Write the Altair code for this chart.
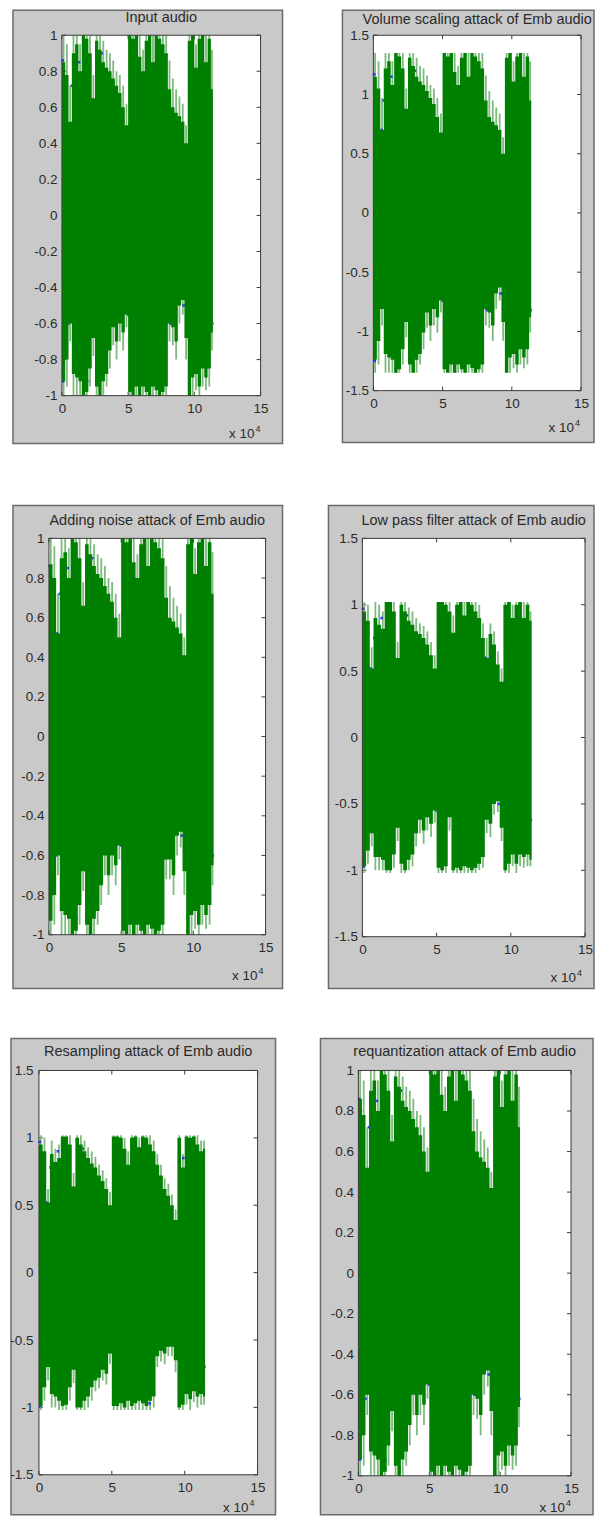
import altair as alt
import pandas as pd

# ---------------- data (x in units of 1e4 samples) ----------------
X_START = [0.0, 0.25, 0.5, 0.75, 1.0, 1.25, 1.5, 1.75, 2.0, 2.25, 2.5, 2.75, 3.0, 3.25, 3.5, 3.75,
           4.0, 4.25, 4.5, 4.75, 5.0, 5.25, 5.5, 5.75, 6.0, 6.25, 6.5, 6.75, 7.0, 7.25, 7.5, 7.75,
           8.0, 8.25, 8.5, 8.75, 9.0, 9.25, 9.5, 9.75, 10.0, 10.25, 10.5, 10.75, 11.0, 11.25]
X_END = 11.4
X_TICKS = [0, 5, 10, 15]
Y_TICKS_1 = [-1, -0.8, -0.6, -0.4, -0.2, 0, 0.2, 0.4, 0.6, 0.8, 1]
Y_TICKS_15 = [-1.5, -1, -0.5, 0, 0.5, 1, 1.5]

TITLES = ["Input audio", "Volume scaling attack of Emb audio", "Adding noise attack of Emb audio",
          "Low pass filter attack of Emb audio", "Resampling attack of Emb audio",
          "requantization attack of Emb audio"]

# Panel 1: Input audio
P1_HI = [0.85, 0.78, 0.52, 0.9, 0.95, 0.8, 1.0, 0.98, 0.9, 0.65, 0.97, 0.92, 0.85, 0.82, 0.8, 0.76,
         0.72, 0.68, 0.6, 0.5, 1.0, 0.98, 1.0, 0.88, 0.8, 0.97, 1.0, 0.85, 1.0, 0.98, 0.95, 0.9,
         0.7, 0.6, 0.57, 0.55, 0.52, 0.4, 0.97, 1.0, 0.82, 0.98, 1.0, 0.85, 0.98, 0.7]
P1_HL = [1.0, 0.95, 0.72, 1.0, 1.0, 0.95, 1.0, 1.0, 1.0, 0.78, 1.0, 1.0, 0.97, 0.92, 0.9, 0.86,
         0.8, 0.78, 0.72, 0.62, 1.0, 1.0, 1.0, 1.0, 0.92, 1.0, 1.0, 1.0, 1.0, 1.0, 1.0, 1.0,
         0.86, 0.76, 0.7, 0.66, 0.62, 0.5, 1.0, 1.0, 0.95, 1.0, 1.0, 1.0, 1.0, 0.92]
P1_LO = [-0.92, -0.8, -0.6, -0.88, -0.9, -0.92, -1.0, -0.98, -0.85, -0.68, -0.95, -1.0, -0.92, -0.88, -0.75, -0.62,
         -0.7, -0.6, -0.65, -0.55, -0.98, -1.0, -0.95, -1.0, -0.95, -0.98, -1.0, -0.95, -0.97, -1.0, -0.98, -0.95,
         -0.6, -0.62, -0.7, -0.5, -0.47, -0.68, -1.0, -0.9, -0.88, -0.95, -0.85, -0.9, -0.85, -0.65]
P1_LL = [-1.0, -0.95, -0.7, -1.0, -1.0, -1.0, -1.0, -1.0, -0.95, -0.78, -1.0, -1.0, -1.0, -0.95, -0.85, -0.72,
         -0.8, -0.7, -0.75, -0.62, -1.0, -1.0, -1.0, -1.0, -1.0, -1.0, -1.0, -1.0, -1.0, -1.0, -1.0, -1.0,
         -0.7, -0.72, -0.8, -0.6, -0.55, -0.8, -1.0, -1.0, -0.97, -1.0, -0.95, -0.97, -0.95, -0.75]
P1_BX = [0.05, 0.55, 0.75, 1.3, 1.55, 3.0, 8.3, 9.9, 10.6, 0.1, 0.5, 1.9, 5.0, 7.6, 8.2, 9.2, 11.35]
P1_BY = [0.86, 0.5, 0.72, 0.85, 0.78, 0.9, 0.55, 0.82, 0.8, -0.92, -0.6, -0.92, -0.55, -0.95, -0.6, -0.5, -0.6]

# Panel 2: Volume scaling attack
P2_HI = [1.15, 1.05, 0.7, 1.22, 1.28, 1.08, 1.35, 1.32, 1.22, 0.88, 1.31, 1.24, 1.15, 1.11, 1.08, 1.03,
         0.97, 0.92, 0.81, 0.68, 1.35, 1.32, 1.35, 1.19, 1.08, 1.31, 1.35, 1.15, 1.35, 1.32, 1.28, 1.22,
         0.95, 0.81, 0.77, 0.74, 0.7, 0.5, 1.31, 1.35, 1.11, 1.32, 1.35, 1.15, 1.32, 0.95]
P2_HL = [1.35, 1.28, 0.97, 1.35, 1.35, 1.28, 1.35, 1.35, 1.35, 1.05, 1.35, 1.35, 1.31, 1.24, 1.22, 1.16,
         1.08, 1.05, 0.97, 0.84, 1.35, 1.35, 1.35, 1.35, 1.24, 1.35, 1.35, 1.35, 1.35, 1.35, 1.35, 1.35,
         1.16, 1.03, 0.95, 0.89, 0.84, 0.64, 1.35, 1.35, 1.28, 1.35, 1.35, 1.35, 1.35, 1.28]
P2_LO = [-1.24, -1.08, -0.81, -1.19, -1.22, -1.24, -1.35, -1.32, -1.15, -0.92, -1.28, -1.35, -1.24, -1.19, -1.01, -0.84,
         -0.95, -0.81, -0.88, -0.74, -1.32, -1.35, -1.28, -1.35, -1.28, -1.32, -1.35, -1.28, -1.31, -1.35, -1.32, -1.28,
         -0.81, -0.84, -0.95, -0.68, -0.63, -0.92, -1.35, -1.22, -1.19, -1.28, -1.15, -1.22, -1.15, -0.88]
P2_LL = [-1.35, -1.28, -0.95, -1.35, -1.35, -1.35, -1.35, -1.35, -1.28, -1.05, -1.35, -1.35, -1.35, -1.28, -1.15, -0.97,
         -1.08, -0.95, -1.01, -0.84, -1.35, -1.35, -1.35, -1.35, -1.35, -1.35, -1.35, -1.35, -1.35, -1.35, -1.35, -1.35,
         -0.95, -0.97, -1.08, -0.81, -0.74, -1.08, -1.35, -1.35, -1.31, -1.35, -1.28, -1.31, -1.28, -1.01]
P2_BX = [0.05, 0.6, 0.75, 1.3, 1.55, 3.0, 8.3, 9.9, 10.6, 0.1, 0.5, 1.9, 5.0, 7.6, 8.2, 9.2, 11.35]
P2_BY = [1.17, 0.7, 0.95, 1.15, 1.05, 1.2, 0.75, 1.1, 1.08, -1.25, -0.8, -1.25, -0.74, -1.28, -0.82, -0.68, -0.82]

# Panel 3: Adding noise attack
P3_HI = [0.87, 0.8, 0.52, 0.9, 0.93, 0.8, 1.0, 0.98, 0.9, 0.66, 0.97, 0.92, 0.86, 0.82, 0.8, 0.76,
         0.72, 0.68, 0.6, 0.5, 1.0, 0.98, 1.0, 0.88, 0.8, 0.97, 1.0, 0.86, 1.0, 0.98, 0.95, 0.9,
         0.7, 0.6, 0.58, 0.55, 0.52, 0.41, 0.97, 1.0, 0.82, 0.98, 1.0, 0.86, 0.98, 0.72]
P3_HL = [1.0, 0.96, 0.72, 1.0, 1.0, 0.95, 1.0, 1.0, 1.0, 0.78, 1.0, 1.0, 0.97, 0.92, 0.9, 0.86,
         0.8, 0.78, 0.72, 0.62, 1.0, 1.0, 1.0, 1.0, 0.92, 1.0, 1.0, 1.0, 1.0, 1.0, 1.0, 1.0,
         0.86, 0.76, 0.7, 0.66, 0.62, 0.5, 1.0, 1.0, 0.95, 1.0, 1.0, 1.0, 1.0, 0.93]
P3_LO = [-0.93, -0.8, -0.6, -0.88, -0.9, -0.92, -1.0, -0.98, -0.85, -0.68, -0.95, -1.0, -0.92, -0.88, -0.75, -0.6,
         -0.7, -0.6, -0.65, -0.55, -0.98, -1.0, -0.95, -1.0, -0.95, -0.98, -1.0, -0.95, -0.97, -1.0, -0.98, -0.95,
         -0.62, -0.62, -0.7, -0.5, -0.48, -0.68, -1.0, -0.9, -0.88, -0.95, -0.85, -0.9, -0.85, -0.65]
P3_LL = [-1.0, -0.95, -0.7, -1.0, -1.0, -1.0, -1.0, -1.0, -0.95, -0.78, -1.0, -1.0, -1.0, -0.95, -0.85, -0.7,
         -0.8, -0.7, -0.75, -0.62, -1.0, -1.0, -1.0, -1.0, -1.0, -1.0, -1.0, -1.0, -1.0, -1.0, -1.0, -1.0,
         -0.72, -0.72, -0.8, -0.6, -0.56, -0.8, -1.0, -1.0, -0.97, -1.0, -0.95, -0.97, -0.95, -0.75]
P3_BX = [0.05, 0.55, 0.75, 1.3, 1.55, 3.0, 8.3, 9.9, 10.6, 0.1, 0.5, 1.9, 5.0, 7.6, 8.2, 9.2, 11.35]
P3_BY = [0.86, 0.52, 0.72, 0.85, 0.78, 0.9, 0.55, 0.82, 0.8, -0.92, -0.6, -0.92, -0.55, -0.95, -0.6, -0.5, -0.6]

# Panel 4: Low pass filter attack
P4_HI = [0.95, 0.88, 0.52, 0.9, 0.85, 0.82, 1.02, 1.02, 0.95, 0.6, 1.0, 0.95, 0.88, 0.85, 0.8, 0.78,
         0.75, 0.7, 0.62, 0.52, 1.02, 1.02, 1.0, 0.95, 0.79, 1.0, 1.02, 0.92, 1.02, 1.0, 0.95, 0.9,
         0.75, 0.6, 0.78, 0.7, 0.55, 0.42, 1.0, 1.02, 0.9, 1.0, 1.02, 0.9, 1.0, 0.88]
P4_HL = [1.02, 1.0, 0.68, 1.02, 1.0, 0.95, 1.02, 1.02, 1.02, 0.72, 1.02, 1.02, 0.98, 0.95, 0.9, 0.86,
         0.84, 0.8, 0.72, 0.62, 1.02, 1.02, 1.02, 1.02, 0.92, 1.02, 1.02, 1.02, 1.02, 1.02, 1.02, 1.0,
         0.86, 0.75, 0.86, 0.8, 0.65, 0.52, 1.02, 1.02, 1.0, 1.02, 1.02, 1.02, 1.02, 0.95]
P4_LO = [-0.97, -0.85, -0.72, -0.9, -0.9, -0.92, -1.0, -1.0, -0.88, -0.68, -0.95, -1.0, -0.92, -0.88, -0.72, -0.62,
         -0.7, -0.6, -0.65, -0.55, -0.98, -1.0, -0.97, -0.6, -1.0, -0.98, -1.0, -0.97, -0.98, -1.0, -0.98, -0.95,
         -0.9, -0.62, -0.65, -0.5, -0.48, -0.68, -1.0, -0.95, -0.88, -0.95, -0.88, -0.9, -0.88, -0.92]
P4_LL = [-1.02, -0.95, -0.82, -1.0, -1.0, -1.0, -1.02, -1.02, -0.98, -0.78, -1.02, -1.02, -1.0, -0.97, -0.82, -0.72,
         -0.8, -0.7, -0.75, -0.64, -1.02, -1.02, -1.02, -0.7, -1.02, -1.02, -1.02, -1.02, -1.02, -1.02, -1.02, -1.0,
         -0.98, -0.72, -0.75, -0.58, -0.56, -0.78, -1.02, -1.02, -0.97, -1.02, -0.97, -0.98, -0.97, -0.97]
P4_BX = [0.05, 0.55, 0.8, 1.3, 1.6, 3.0, 8.3, 9.9, 10.6, 0.1, 0.5, 1.9, 5.0, 7.6, 8.2, 9.2, 11.35]
P4_BY = [0.97, 0.52, 0.75, 0.9, 0.8, 0.92, 0.6, 0.85, 0.82, -0.97, -0.65, -0.95, -0.55, -0.97, -0.58, -0.5, -0.62]

# Panel 5: Resampling attack
P5_HI = [0.95, 0.9, 0.52, 0.88, 0.82, 0.85, 1.01, 1.01, 0.95, 0.64, 1.0, 0.95, 0.9, 0.85, 0.81, 0.78,
         0.72, 0.68, 0.62, 0.5, 1.01, 1.01, 1.0, 0.92, 0.8, 1.0, 1.01, 0.93, 1.01, 1.0, 0.95, 0.9,
         0.8, 0.72, 0.62, 0.57, 0.5, 0.39, 1.0, 0.78, 1.01, 1.0, 1.01, 0.95, 0.9, 0.92]
P5_HL = [1.02, 1.0, 0.62, 0.98, 0.92, 0.95, 1.02, 1.02, 1.02, 0.74, 1.02, 1.02, 0.98, 0.93, 0.9, 0.86,
         0.8, 0.76, 0.7, 0.6, 1.02, 1.02, 1.02, 1.0, 0.9, 1.02, 1.02, 1.0, 1.02, 1.02, 1.02, 0.98,
         0.88, 0.8, 0.7, 0.66, 0.58, 0.47, 1.02, 0.88, 1.02, 1.02, 1.02, 1.02, 0.98, 0.98]
P5_LO = [-0.99, -0.85, -0.7, -0.9, -0.92, -0.95, -0.99, -0.98, -0.85, -0.72, -1.0, -1.0, -0.95, -0.92, -0.85, -0.8,
         -0.78, -0.72, -0.75, -0.6, -0.99, -0.99, -0.97, -1.0, -0.95, -0.99, -0.97, -0.95, -0.97, -0.99, -0.95, -0.92,
         -0.62, -0.58, -0.6, -0.55, -0.55, -0.65, -1.0, -0.98, -0.9, -0.94, -0.88, -0.92, -0.9, -0.92]
P5_LL = [-1.02, -0.95, -0.8, -1.0, -1.0, -1.02, -1.02, -1.02, -0.95, -0.82, -1.02, -1.02, -1.02, -1.0, -0.95, -0.88,
         -0.86, -0.8, -0.83, -0.68, -1.02, -1.02, -1.02, -1.02, -1.02, -1.02, -1.02, -1.02, -1.02, -1.02, -1.02, -1.0,
         -0.7, -0.66, -0.68, -0.62, -0.62, -0.74, -1.02, -1.02, -0.98, -1.02, -0.96, -1.0, -0.98, -0.98]
P5_BX = [0.05, 0.55, 0.8, 1.3, 1.6, 3.0, 8.3, 9.9, 10.6, 0.1, 0.5, 1.9, 5.0, 7.6, 8.2, 9.2, 11.35]
P5_BY = [0.97, 0.52, 0.78, 0.9, 0.8, 0.92, 0.62, 0.85, 0.85, -0.99, -0.62, -0.95, -0.55, -0.97, -0.56, -0.52, -0.7]

# Panel 6: requantization attack
P6_HI = [0.86, 0.78, 0.52, 0.9, 0.95, 0.8, 1.0, 0.98, 0.9, 0.65, 0.97, 0.92, 0.85, 0.82, 0.8, 0.76,
         0.72, 0.68, 0.6, 0.5, 1.0, 0.98, 1.0, 0.88, 0.8, 0.97, 1.0, 0.85, 1.0, 0.98, 0.95, 0.9,
         0.7, 0.6, 0.57, 0.55, 0.52, 0.42, 0.97, 1.0, 0.82, 0.98, 1.0, 0.85, 0.98, 0.72]
P6_HL = [1.0, 0.95, 0.72, 1.0, 1.0, 0.95, 1.0, 1.0, 1.0, 0.78, 1.0, 1.0, 0.97, 0.92, 0.9, 0.86,
         0.8, 0.78, 0.72, 0.62, 1.0, 1.0, 1.0, 1.0, 0.92, 1.0, 1.0, 1.0, 1.0, 1.0, 1.0, 1.0,
         0.86, 0.76, 0.7, 0.66, 0.62, 0.5, 1.0, 1.0, 0.95, 1.0, 1.0, 1.0, 1.0, 0.92]
P6_LO = [-0.92, -0.8, -0.6, -0.88, -0.9, -0.92, -1.0, -0.98, -0.85, -0.68, -0.95, -1.0, -0.92, -0.88, -0.75, -0.6,
         -0.7, -0.6, -0.65, -0.55, -0.98, -1.0, -0.95, -1.0, -0.95, -0.98, -1.0, -0.95, -0.97, -1.0, -0.98, -0.95,
         -0.6, -0.62, -0.7, -0.5, -0.48, -0.68, -1.0, -0.9, -0.88, -0.95, -0.85, -0.9, -0.85, -0.66]
P6_LL = [-1.0, -0.95, -0.7, -1.0, -1.0, -1.0, -1.0, -1.0, -0.95, -0.78, -1.0, -1.0, -1.0, -0.95, -0.85, -0.7,
         -0.8, -0.7, -0.75, -0.62, -1.0, -1.0, -1.0, -1.0, -1.0, -1.0, -1.0, -1.0, -1.0, -1.0, -1.0, -1.0,
         -0.7, -0.72, -0.8, -0.6, -0.56, -0.8, -1.0, -1.0, -0.97, -1.0, -0.95, -0.97, -0.95, -0.76]
P6_BX = [0.05, 0.55, 0.75, 1.3, 1.55, 3.0, 8.3, 9.9, 10.6, 0.1, 0.5, 1.9, 5.0, 7.6, 8.2, 9.2, 11.35]
P6_BY = [0.86, 0.5, 0.72, 0.85, 0.78, 0.9, 0.55, 0.82, 0.8, -0.92, -0.62, -0.92, -0.55, -0.95, -0.6, -0.5, -0.62]

# ---------------- styling ----------------
FONT = "Liberation Sans"
TXT = "#2a2a2a"
GREY = "#c9c9c9"
EDGE = "#6b6b6b"
FRAME = "#3a3a3a"
DARK = "#008000"
LIGHT = "#7dba7d"
BLUE = "#1f1fff"
ONE = pd.DataFrame({"k": [0]})

NEG_FMT = "datum.value < 0 ? '-' + format(-datum.value, '~g') : format(datum.value, '~g')"


def spacer(w, h):
    return alt.Chart(ONE).mark_rect(opacity=0).encode(
        x=alt.value(0), x2=alt.value(w), y=alt.value(0), y2=alt.value(h)
    ).properties(width=w, height=h)


def panel(title, hi, hl, lo, ll, bx, by, ydom, yticks, geo):
    W, H, L, R, T, B, tgap, xr, xb, lpad = geo
    n = len(hi)
    xe = X_START[:n] + [X_END]
    # step envelope (last value held until the end of the signal)
    env = pd.DataFrame({"x": xe, "hi": hi + [hi[-1]], "lo": lo + [lo[-1]]})
    # lighter anti-aliased spikes, one per segment, at segment centres
    spk = pd.DataFrame({"xm": [(a + b) / 2 for a, b in zip(xe[:-1], xe[1:])], "hl": hl, "ll": ll})
    blue = pd.DataFrame({"bx": bx, "by": by})
    yt = pd.DataFrame({"v": yticks})
    xt = pd.DataFrame({"v": X_TICKS})
    xs = alt.Scale(domain=[0, 15], nice=False, zero=False)
    ys = alt.Scale(domain=ydom, nice=False, zero=False)
    ax_x = alt.Axis(values=X_TICKS, title=None, grid=False, domain=False, ticks=False, tickSize=0,
                    labelPadding=6, labelFont=FONT, labelFontSize=13.5, labelColor=TXT,
                    labelFlush=False, labelOverlap=False, labelBound=False, labelAngle=0, zindex=1)
    ax_y = alt.Axis(values=yticks, title=None, grid=False, domain=False, ticks=False, tickSize=0,
                    labelPadding=lpad, labelFont=FONT, labelFontSize=13.5, labelColor=TXT,
                    labelFlush=False, labelOverlap=False, labelBound=False, labelExpr=NEG_FMT, zindex=1)

    grey = alt.Chart(ONE).mark_rect(fill=GREY, stroke=EDGE, strokeWidth=1.5).encode(
        x=alt.value(-L), x2=alt.value(W + R), y=alt.value(-T), y2=alt.value(H + B))
    white = alt.Chart(ONE).mark_rect(fill="white").encode(
        x=alt.value(0), x2=alt.value(W), y=alt.value(0), y2=alt.value(H))
    tick_l = alt.Chart(yt).mark_rule(color=FRAME, strokeWidth=1).encode(
        y=alt.Y("v:Q", scale=ys, axis=ax_y), x=alt.value(0), x2=alt.value(4))
    tick_r = alt.Chart(yt).mark_rule(color=FRAME, strokeWidth=1).encode(
        y=alt.Y("v:Q", scale=ys, axis=ax_y), x=alt.value(W - 4), x2=alt.value(W))
    tick_t = alt.Chart(xt).mark_rule(color=FRAME, strokeWidth=1).encode(
        x=alt.X("v:Q", scale=xs, axis=ax_x), y=alt.value(0), y2=alt.value(4))
    tick_b = alt.Chart(xt).mark_rule(color=FRAME, strokeWidth=1).encode(
        x=alt.X("v:Q", scale=xs, axis=ax_x), y=alt.value(H - 4), y2=alt.value(H))
    light = alt.Chart(spk).mark_rule(color=LIGHT, strokeWidth=1.8).encode(
        x=alt.X("xm:Q", scale=xs, axis=ax_x),
        y=alt.Y("ll:Q", scale=ys, axis=ax_y), y2="hl:Q")
    blues = alt.Chart(blue).mark_square(size=7, color=BLUE, opacity=0.85).encode(
        x=alt.X("bx:Q", scale=xs, axis=ax_x), y=alt.Y("by:Q", scale=ys, axis=ax_y))
    dark = alt.Chart(env).mark_area(color=DARK, interpolate="step-after", opacity=1).encode(
        x=alt.X("x:Q", scale=xs, axis=ax_x),
        y=alt.Y("lo:Q", scale=ys, axis=ax_y), y2="hi:Q")
    frame = alt.Chart(ONE).mark_rect(fillOpacity=0, stroke=FRAME, strokeWidth=1).encode(
        x=alt.value(0), x2=alt.value(W), y=alt.value(0), y2=alt.value(H))
    ttl = alt.Chart(ONE).mark_text(text=title, font=FONT, fontSize=14.5, color=TXT,
                                   align="center", baseline="alphabetic").encode(
        x=alt.value(W / 2), y=alt.value(-tgap))
    x10 = alt.Chart(ONE).mark_text(text="x 10", font=FONT, fontSize=13.5, color=TXT,
                                   align="right", baseline="alphabetic").encode(
        x=alt.value(W - xr), y=alt.value(H + xb))
    sup = alt.Chart(ONE).mark_text(text="4", font=FONT, fontSize=9, color=TXT,
                                   align="left", baseline="alphabetic").encode(
        x=alt.value(W - xr + 1), y=alt.value(H + xb - 6))
    return alt.layer(grey, white, tick_l, tick_r, tick_t, tick_b, light, blues, dark, frame,
                     ttl, x10, sup).properties(width=W, height=H)


# geometry: W, H, L, R, T, B, title gap, x10 right inset, x10 baseline below, label pad
G1 = (199, 361, 49, 22, 25, 48, 13.5, 6, 42, 5)
G2 = (208, 356, 31, 13, 25, 52, 11.5, 7, 41, 5)
G3 = (217, 397, 36, 17, 33, 54, 13, 8, 45, 5)
G4 = (223, 399, 34, 9, 33, 52, 13, 9, 45, 5)
G5 = (219, 405, 28, 18, 32, 40, 14, 9, 37, 6)
G6 = (213, 406, 38, 22, 32, 39, 14, 6, 36, 5)

p1 = panel(TITLES[0], P1_HI, P1_HL, P1_LO, P1_LL, P1_BX, P1_BY, [-1, 1], Y_TICKS_1, G1)
p2 = panel(TITLES[1], P2_HI, P2_HL, P2_LO, P2_LL, P2_BX, P2_BY, [-1.5, 1.5], Y_TICKS_15, G2)
p3 = panel(TITLES[2], P3_HI, P3_HL, P3_LO, P3_LL, P3_BX, P3_BY, [-1, 1], Y_TICKS_1, G3)
p4 = panel(TITLES[3], P4_HI, P4_HL, P4_LO, P4_LL, P4_BX, P4_BY, [-1.5, 1.5], Y_TICKS_15, G4)
p5 = panel(TITLES[4], P5_HI, P5_HL, P5_LO, P5_LL, P5_BX, P5_BY, [-1.5, 1.5], Y_TICKS_15, G5)
p6 = panel(TITLES[5], P6_HI, P6_HL, P6_LO, P6_LL, P6_BX, P6_BY, [-1, 1], Y_TICKS_1, G6)

row1 = alt.hconcat(spacer(4, 1), p1, spacer(58, 1), p2, spacing=0)
row2 = alt.hconcat(spacer(4, 1), p3, spacer(44, 1), p4, spacing=0)
row3 = alt.hconcat(spacer(1, 1), p5, spacer(43, 1), p6, spacing=0)

chart = alt.vconcat(row1, spacer(1, 60), row2, spacer(1, 48), row3, spacing=0).properties(
    padding=0, background="white"
).configure_view(strokeWidth=0)

chart.save("out.html", embed_options={"renderer": "svg", "actions": False})
